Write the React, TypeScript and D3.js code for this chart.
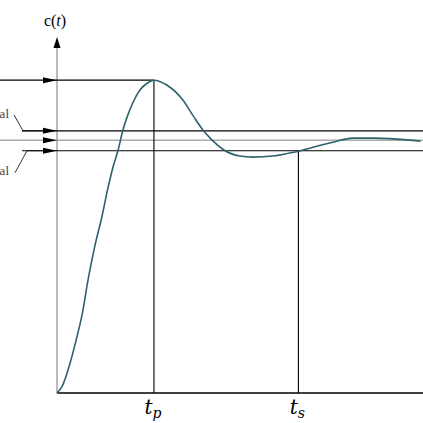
import * as d3 from 'd3';
import { useEffect, useRef } from 'react';

// step response c(t) (t in s, c normalised to final value)
const timeValues = [0, 0.1, 0.27, 0.41, 0.52, 0.64, 0.78, 0.93, 1.05, 1.16, 1.26, 1.36, 1.46, 1.57, 1.71, 1.86, 2.0, 2.27, 2.6, 2.8, 3.01, 3.2, 3.42, 3.77, 4.04, 4.45, 4.8, 5.01, 5.28, 5.69, 6.1, 6.52, 7.01, 7.5];
const responseValues = [0, 0.024, 0.119, 0.221, 0.312, 0.447, 0.581, 0.7, 0.81, 0.897, 0.96, 1.04, 1.099, 1.15, 1.198, 1.225, 1.237, 1.217, 1.158, 1.099, 1.04, 1.0, 0.964, 0.937, 0.933, 0.937, 0.949, 0.957, 0.972, 0.992, 1.008, 1.008, 1.004, 0.996];

const peakTime = 2.0;
const settlingTime = 4.98;
const peakValue = 1.237;
const finalValue = 1.0;
const bandUpper = 1.037;
const bandLower = 0.958;

const timeLabels = [
  { t: peakTime, sub: 'p' },
  { t: settlingTime, sub: 's' },
];

const W = 423;
const H = 423;

const App = () => {
  const ref = useRef<SVGSVGElement | null>(null);

  useEffect(() => {
    if (!ref.current) return;
    const svg = d3.select(ref.current);
    svg.selectAll('*').remove();

    const x = d3.scaleLinear().domain([0, 7.55]).range([57, 423]);
    const y = d3.scaleLinear().domain([0, 1.4]).range([393, 39]);
    const x0 = x(0);

    const arrowR = (g: any, yy: number) => {
      g.append('path')
        .attr('d', `M${x0},${yy} L${x0 - 14},${yy - 3} L${x0 - 14},${yy + 3} Z`)
        .attr('fill', '#000');
    };

    // y axis (grey) with arrow
    svg.append('line')
      .attr('x1', x0).attr('x2', x0)
      .attr('y1', y(0)).attr('y2', 46)
      .attr('stroke', '#777').attr('stroke-width', 1);
    svg.append('path')
      .attr('d', `M${x0},37 L${x0 - 3.5},48 L${x0 + 3.5},48 Z`)
      .attr('fill', '#000');
    svg.append('text')
      .attr('x', x0 - 2).attr('y', 26)
      .attr('text-anchor', 'middle')
      .style('font-family', '"Liberation Serif", "DejaVu Serif", serif')
      .style('font-size', '16px')
      .html('c(<tspan font-style="italic">t</tspan>)');

    // final value line (grey)
    svg.append('line')
      .attr('x1', 0).attr('x2', W)
      .attr('y1', y(finalValue)).attr('y2', y(finalValue))
      .attr('stroke', '#808080').attr('stroke-width', 1);
    arrowR(svg, y(finalValue));

    // tolerance band lines
    [bandUpper, bandLower].forEach(v => {
      svg.append('line')
        .attr('x1', x0 - 35).attr('x2', W)
        .attr('y1', y(v)).attr('y2', y(v))
        .attr('stroke', '#000').attr('stroke-width', 1.2);
      arrowR(svg, y(v));
    });
    // leaders for the band labels
    svg.append('path')
      .attr('d', `M14,${y(bandUpper) - 16} L23,${y(bandUpper)} L${x0 - 14},${y(bandUpper)}`)
      .attr('fill', 'none').attr('stroke', '#000').attr('stroke-width', 0.8);
    svg.append('path')
      .attr('d', `M15,${y(bandLower) + 22} L27,${y(bandLower)} L${x0 - 14},${y(bandLower)}`)
      .attr('fill', 'none').attr('stroke', '#000').attr('stroke-width', 0.8);
    svg.selectAll('text.band')
      .data([{ yy: y(bandUpper) - 13 }, { yy: y(bandLower) + 24 }])
      .enter().append('text')
      .attr('class', 'band')
      .attr('x', 9).attr('y', d => d.yy)
      .attr('text-anchor', 'end')
      .style('font-family', '"Liberation Serif", serif')
      .style('font-size', '13px')
      .style('fill', '#444')
      .text('al');

    // peak line
    svg.append('line')
      .attr('x1', 0).attr('x2', x(peakTime))
      .attr('y1', y(peakValue)).attr('y2', y(peakValue))
      .attr('stroke', '#000').attr('stroke-width', 1.2);
    arrowR(svg, y(peakValue));

    // vertical markers
    svg.append('line')
      .attr('x1', x(peakTime)).attr('x2', x(peakTime))
      .attr('y1', y(peakValue)).attr('y2', y(0))
      .attr('stroke', '#000').attr('stroke-width', 1.1);
    svg.append('line')
      .attr('x1', x(settlingTime)).attr('x2', x(settlingTime))
      .attr('y1', y(bandLower)).attr('y2', y(0))
      .attr('stroke', '#000').attr('stroke-width', 1.1);

    // x axis
    svg.append('line')
      .attr('x1', x0).attr('x2', W)
      .attr('y1', y(0)).attr('y2', y(0))
      .attr('stroke', '#000').attr('stroke-width', 1.3);

    const lbl = svg.selectAll('text.tl')
      .data(timeLabels)
      .enter().append('text')
      .attr('class', 'tl')
      .attr('x', d => x(d.t) - 1).attr('y', 414)
      .attr('text-anchor', 'middle')
      .style('font-family', '"DejaVu Serif", serif')
      .style('font-style', 'italic')
      .style('font-size', '20px');
    lbl.append('tspan').text('t');
    lbl.append('tspan')
      .attr('dy', 4)
      .style('font-size', '14px')
      .text(d => d.sub);

    // response curve
    const pts = timeValues.map((t, i) => [t, responseValues[i]] as [number, number]);
    const line = d3.line<[number, number]>()
      .x(d => x(d[0]))
      .y(d => y(d[1]))
      .curve(d3.curveMonotoneX);
    svg.append('path')
      .datum(pts)
      .attr('d', line)
      .attr('fill', 'none')
      .attr('stroke', '#2d616b')
      .attr('stroke-width', 1.6);
  }, []);

  return (
    <svg ref={ref} width={W} height={H}
      style={{ position: 'absolute', left: 0, top: 0, background: '#fff' }} />
  );
};

export default App;
